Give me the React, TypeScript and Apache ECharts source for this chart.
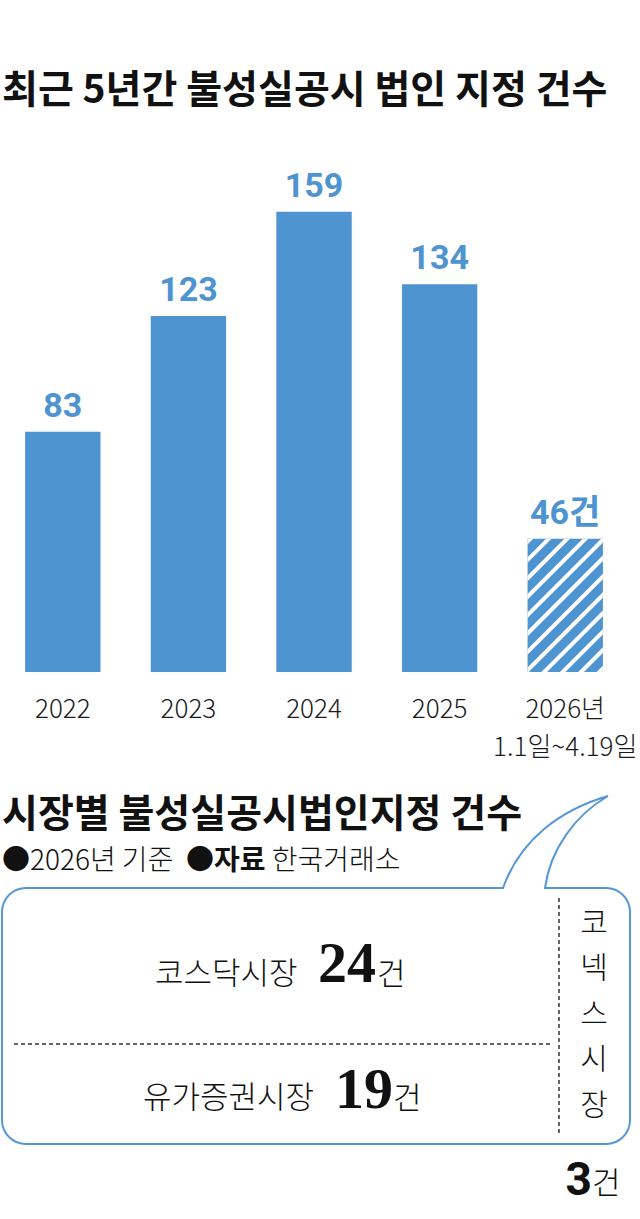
import React, { useEffect, useRef } from "react";
import * as echarts from "echarts";

const title = "최근 5년간 불성실공시 법인 지정 건수";
const categories = ["2022", "2023", "2024", "2025", "2026년\n1.1일~4.19일"];
const values = [83, 123, 159, 134, 46];
const partialIndex = 4;
const unit = "건";

const subTitle = "시장별 불성실공시법인지정 건수";
const noteBase = "●2026년 기준";
const noteSourceLabel = "●자료";
const noteSource = "한국거래소";
const markets = ["코스닥시장", "유가증권시장", "코넥스시장"];
const marketCounts = [24, 19, 3];

const BLUE = "#4E94D0";
const CJK = "'Noto Sans CJK KR', 'Noto Sans', sans-serif";
const NUM = "Roboto, 'Noto Sans CJK KR', sans-serif";
const SERIF = "'Liberation Serif', 'DejaVu Serif', serif";

const bubblePath =
  "M 503 888 L 26 888 A 24 24 0 0 0 2 912 L 2 1120 A 24 24 0 0 0 26 1144 L 606 1144 A 24 24 0 0 0 630 1120 L 630 912 A 24 24 0 0 0 606 888 L 545 888 C 550 850 575 815 608 796 C 560 810 520 840 503 888 Z";

let registered = false;
function ensureShape() {
  if (registered) return;
  echarts.graphic.registerShape("bubble", echarts.graphic.extendPath(bubblePath, {}) as any);
  registered = true;
}

export default function App() {
  const ref = useRef<HTMLDivElement>(null);
  useEffect(() => {
    if (!ref.current) return;
    ensureShape();
    const chart = echarts.init(ref.current, null, { renderer: "svg" });
    const option: any = {
      animation: false,
      backgroundColor: "#ffffff",
      grid: { left: 0, right: 8, top: 151, bottom: 547, containLabel: false },
      xAxis: {
        type: "category",
        data: categories,
        axisLine: { show: false },
        axisTick: { show: false },
        axisLabel: {
          interval: 0,
          margin: 15,
          fontSize: 26,
          lineHeight: 38,
          color: "#1a1a1a",
          fontFamily: CJK,
          fontWeight: 300,
        },
      },
      yAxis: { type: "value", min: 0, max: 180, show: false },
      series: [
        {
          type: "bar",
          barWidth: "60%",
          data: values.map((v, i) =>
            i === partialIndex
              ? {
                  value: v,
                  itemStyle: {
                    color: BLUE,
                    decal: {
                      symbol: "rect",
                      symbolSize: 1,
                      color: "#ffffff",
                      dashArrayX: [1, 0],
                      dashArrayY: [4, 9],
                      rotation: -Math.PI / 4,
                    },
                  },
                  label: { formatter: "{c}" + unit },
                }
              : v
          ),
          itemStyle: { color: BLUE },
          label: {
            show: true,
            position: "top",
            distance: 10,
            fontSize: 34,
            fontWeight: "bold",
            color: BLUE,
            fontFamily: NUM,
          },
        },
      ],
      graphic: [
        {
          type: "text",
          x: 2,
          y: 86,
          style: { text: title, fontSize: 39, fontWeight: "bold", fill: "#111111", fontFamily: CJK, verticalAlign: "middle" },
        },
        {
          type: "text",
          x: 2,
          y: 810,
          style: {
            text: subTitle,
            fontSize: 39,
            fontWeight: "bold",
            fill: "#111111",
            fontFamily: CJK,
            verticalAlign: "middle",
          },
        },
        {
          type: "text",
          x: 2,
          y: 858,
          style: {
            text: `{r|${noteBase}}  {b|${noteSourceLabel}} {r|${noteSource}}`,
            verticalAlign: "middle",
            fontSize: 28,
            fontFamily: CJK,
            fill: "#111111",
            rich: {
              r: { fontSize: 28, fontFamily: CJK, fontWeight: 300, fill: "#111111" },
              b: { fontSize: 28, fontFamily: CJK, fontWeight: "bold", fill: "#111111" },
            },
          },
        },
        {
          type: "bubble",
          x: 0,
          y: 0,
          style: { fill: "none", stroke: "#5597D6", lineWidth: 2 },
        },
        {
          type: "line",
          shape: { x1: 14, y1: 1044, x2: 551, y2: 1044 },
          style: { stroke: "#333333", lineWidth: 1.5, lineDash: [4, 3] },
        },
        {
          type: "line",
          shape: { x1: 559, y1: 898, x2: 559, y2: 1133 },
          style: { stroke: "#333333", lineWidth: 1.5, lineDash: [4, 3] },
        },
        // KOSDAQ
        {
          type: "text",
          x: 155,
          y: 970,
          style: { text: markets[0], fontSize: 31, fontFamily: CJK, fill: "#111111", verticalAlign: "middle", fontWeight: 300 },
        },
        {
          type: "text",
          x: 318,
          y: 962,
          style: { text: String(marketCounts[0]), fontSize: 58, fontFamily: SERIF, fontWeight: "bold", fill: "#111111", verticalAlign: "middle" },
        },
        {
          type: "text",
          x: 377,
          y: 971,
          style: { text: unit, fontSize: 31, fontFamily: CJK, fill: "#111111", verticalAlign: "middle", fontWeight: 300 },
        },
        // KOSPI
        {
          type: "text",
          x: 143,
          y: 1094,
          style: { text: markets[1], fontSize: 31, fontFamily: CJK, fill: "#111111", verticalAlign: "middle", fontWeight: 300 },
        },
        {
          type: "text",
          x: 335,
          y: 1088,
          style: { text: String(marketCounts[1]), fontSize: 58, fontFamily: SERIF, fontWeight: "bold", fill: "#111111", verticalAlign: "middle" },
        },
        {
          type: "text",
          x: 393,
          y: 1095,
          style: { text: unit, fontSize: 31, fontFamily: CJK, fill: "#111111", verticalAlign: "middle", fontWeight: 300 },
        },
        // KONEX vertical
        {
          type: "text",
          x: 594,
          y: 897,
          style: {
            text: markets[2].split("").join("\n"),
            fontSize: 30,
            lineHeight: 45.5,
            fontFamily: CJK,
            fill: "#111111",
            align: "center",
            verticalAlign: "top",
            fontWeight: 300,
          },
        },
        {
          type: "text",
          x: 592,
          y: 1179,
          style: { text: String(marketCounts[2]), fontSize: 46, fontFamily: NUM, fontWeight: "bold", fill: "#111111", align: "right", verticalAlign: "middle" },
        },
        {
          type: "text",
          x: 592,
          y: 1180,
          style: { text: unit, fontSize: 31, fontFamily: CJK, fill: "#111111", verticalAlign: "middle", fontWeight: 300 },
        },
      ],
    };
    chart.setOption(option);
    return () => chart.dispose();
  }, []);
  return (
    <div
      ref={ref}
      style={{ position: "absolute", left: 0, top: 0, width: 640, height: 1219, background: "#ffffff" }}
    />
  );
}
